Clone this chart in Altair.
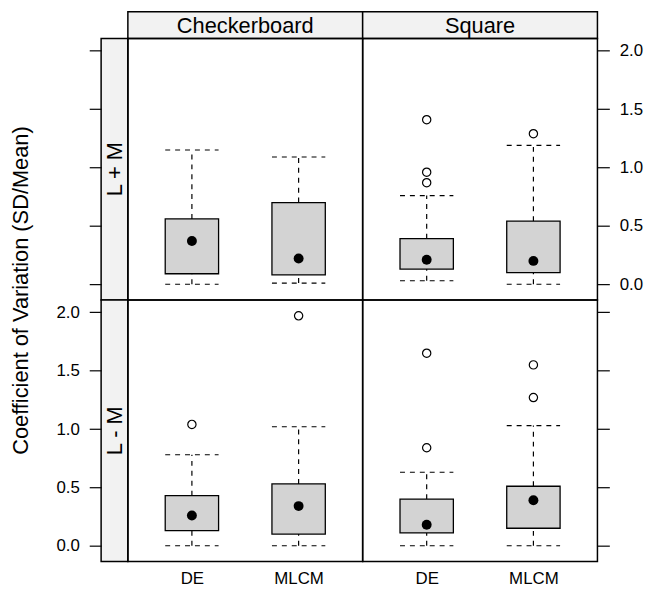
import altair as alt
import pandas as pd

FONT = "Liberation Sans"

# ---- data ----
box_pattern = ["Checkerboard", "Checkerboard", "Square", "Square",
               "Checkerboard", "Checkerboard", "Square", "Square"]
box_condition = ["L + M", "L + M", "L + M", "L + M",
                 "L - M", "L - M", "L - M", "L - M"]
box_method = ["DE", "MLCM", "DE", "MLCM", "DE", "MLCM", "DE", "MLCM"]
box_lower = [0.00, 0.01, 0.03, 0.00, 0.00, 0.00, 0.00, 0.00]
box_q1 = [0.09, 0.08, 0.13, 0.10, 0.13, 0.10, 0.11, 0.15]
box_median = [0.37, 0.22, 0.21, 0.20, 0.26, 0.34, 0.18, 0.39]
box_q3 = [0.56, 0.70, 0.39, 0.54, 0.43, 0.53, 0.40, 0.51]
box_upper = [1.15, 1.09, 0.76, 1.19, 0.78, 1.02, 0.63, 1.03]

out_pattern = ["Square", "Square", "Square", "Square",
               "Checkerboard", "Checkerboard", "Square", "Square", "Square", "Square"]
out_condition = ["L + M", "L + M", "L + M", "L + M",
                 "L - M", "L - M", "L - M", "L - M", "L - M", "L - M"]
out_method = ["DE", "DE", "DE", "MLCM", "DE", "MLCM", "DE", "DE", "MLCM", "MLCM"]
out_value = [1.41, 0.96, 0.87, 1.29, 1.04, 1.97, 1.65, 0.84, 1.55, 1.27]

methods = ["DE", "MLCM"]
patterns = ["Checkerboard", "Square"]
conditions = ["L + M", "L - M"]
tick_values = [0.0, 0.5, 1.0, 1.5, 2.0]
y_title = "Coefficient of Variation (SD/Mean)"

# ---- tables ----
boxes = pd.DataFrame({
    "pattern": box_pattern, "condition": box_condition, "method": box_method,
    "lower": box_lower, "q1": box_q1, "median": box_median,
    "q3": box_q3, "upper": box_upper,
})
boxes["xi"] = boxes["method"].map({m: i + 1 for i, m in enumerate(methods)})
boxes["xlo"] = boxes["xi"] - 0.25
boxes["xhi"] = boxes["xi"] + 0.25

outs = pd.DataFrame({"pattern": out_pattern, "condition": out_condition,
                     "method": out_method, "value": out_value})
outs["xi"] = outs["method"].map({m: i + 1 for i, m in enumerate(methods)})

PW, PH = 237, 264
SW = 27

xscale = alt.Scale(domain=[0.4, 2.6], nice=False, zero=False)
yscale = alt.Scale(domain=[-0.135, 2.106], nice=False, zero=False)

BORDER = alt.ViewBackground(stroke="black", strokeWidth=1.5)
STRIP = alt.ViewBackground(fill="#f2f2f2", stroke="black", strokeWidth=1.5)


def yaxis(orient, labels, title=None):
    kw = dict(orient=orient, values=tick_values, format=".1f", tickSize=12,
              tickWidth=1.2, tickColor="black", labelPadding=10, domain=False,
              grid=False, labels=labels, labelFont=FONT, labelFontSize=17,
              labelColor="black")
    if title:
        kw.update(title=title, titleFont=FONT, titleFontSize=22,
                  titleFontWeight="normal", titleColor="black", titleY=-10,
                  titleX=-81, titleAlign="center", titleBaseline="middle",
                  titleAngle=270)
    else:
        kw.update(title=None)
    return alt.Axis(**kw)


xaxis_bottom = alt.Axis(values=[1, 2], labelExpr="datum.value == 1 ? 'DE' : 'MLCM'",
                        ticks=False, domain=False, grid=False, labelPadding=9,
                        title=None, labelFlush=False, labelAngle=0,
                        labelFont=FONT, labelFontSize=17, labelColor="black")


def panel(pat, cond, show_x, yax):
    d = boxes[(boxes.pattern == pat) & (boxes.condition == cond)]
    o = outs[(outs.pattern == pat) & (outs.condition == cond)]
    xa = xaxis_bottom if show_x else None
    ya = yax

    def X(f):
        return alt.X(f, type="quantitative", scale=xscale, axis=xa)

    def Y(f):
        return alt.Y(f, type="quantitative", scale=yscale, axis=ya)

    base = alt.Chart(d)
    dash = dict(color="black", strokeWidth=1.2, strokeDash=[5, 5])
    layers = [
        base.mark_rule(**dash).encode(x=X("xi"), y=Y("lower"), y2="q1"),
        base.mark_rule(**dash).encode(x=X("xi"), y=Y("q3"), y2="upper"),
        base.mark_rule(**dash).encode(x=X("xlo"), x2="xhi", y=Y("lower")),
        base.mark_rule(**dash).encode(x=X("xlo"), x2="xhi", y=Y("upper")),
        base.mark_rect(fill="#d3d3d3", stroke="black", strokeWidth=1.3).encode(
            x=X("xlo"), x2="xhi", y=Y("q1"), y2="q3"),
        base.mark_circle(size=100, color="black", opacity=1).encode(
            x=X("xi"), y=Y("median")),
    ]
    if len(o):
        layers.append(alt.Chart(o).mark_point(shape="circle", filled=False,
                                              stroke="black", fill="white",
                                              fillOpacity=1, strokeWidth=1.2,
                                              size=70, opacity=1).encode(
            x=X("xi"), y=Y("value")))
    return alt.layer(*layers).properties(width=PW, height=PH, view=BORDER)


def strip_top(label):
    return alt.Chart(pd.DataFrame({"t": [label]})).mark_text(
        font=FONT, fontSize=22, color="black", baseline="middle", align="center"
    ).encode(text="t:N", x=alt.value(PW / 2), y=alt.value(SW / 2 + 1)).properties(
        width=PW, height=SW, view=STRIP)


def strip_left(label, labels, title=None):
    ticks = alt.Chart(pd.DataFrame({"v": tick_values})).mark_point(opacity=0).encode(
        y=alt.Y("v:Q", scale=yscale, axis=yaxis("left", labels, title)))
    txt = alt.Chart(pd.DataFrame({"t": [label]})).mark_text(
        font=FONT, fontSize=22, color="black", angle=270, baseline="middle",
        align="center").encode(text="t:N", x=alt.value(SW / 2 + 1), y=alt.value(PH / 2))
    return alt.layer(ticks, txt).properties(width=SW, height=PH, view=STRIP)


corner = alt.Chart(pd.DataFrame({"t": [""]})).mark_text().encode(
    text="t:N").properties(width=SW, height=SW,
                           view=alt.ViewBackground(stroke="transparent"))

cells = [
    corner, strip_top(patterns[0]), strip_top(patterns[1]),
    strip_left(conditions[0], False),
    panel(patterns[0], conditions[0], False, None),
    panel(patterns[1], conditions[0], False, yaxis("right", True)),
    strip_left(conditions[1], True, y_title),
    panel(patterns[0], conditions[1], True, None),
    panel(patterns[1], conditions[1], True, yaxis("right", False)),
]

chart = alt.concat(*cells, columns=3, spacing=0, bounds="flush").resolve_scale(
    x="independent", y="independent"
).properties(
    padding={"left": 1, "top": 0, "right": 0, "bottom": 0}
).configure(font=FONT).configure_view(stroke="black", strokeWidth=1.5)

chart.save("out.html", embed_options={"renderer": "svg", "actions": False})
